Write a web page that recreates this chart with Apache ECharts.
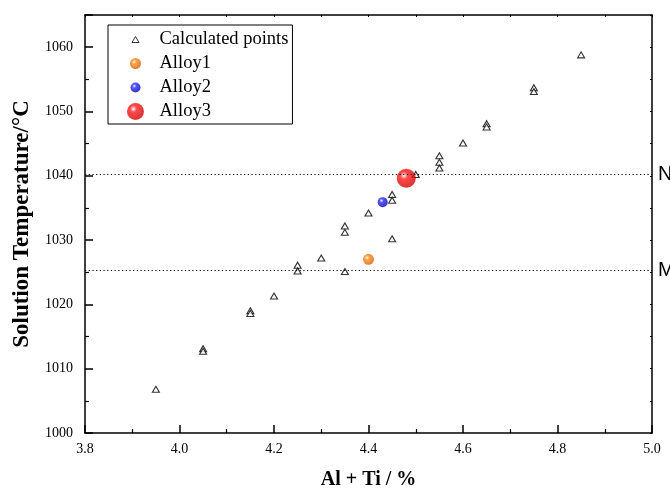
<!DOCTYPE html>
<html lang="en">
<head>
    <meta charset="UTF-8">
    <title>Solution Temperature</title>
    <style>
        body,html{
            margin: 0;
            height: 100%;
            width: 100%;
            background: #fff;
        }
    </style>
</head>
<body>

<div id="main" style="height: 489px; width: 670px;"></div>
<script src="https://cdn.jsdelivr.net/npm/echarts@6/dist/echarts.min.js"></script>
<script>
    // values
    var calcX = [3.95, 4.05, 4.05, 4.15, 4.15, 4.20, 4.25, 4.25, 4.30, 4.35, 4.35, 4.35, 4.40,
        4.45, 4.45, 4.45, 4.50, 4.55, 4.55, 4.55, 4.60, 4.65, 4.65, 4.75, 4.75, 4.85];
    var calcY = [1006.8, 1013.1, 1012.7, 1019.0, 1018.6, 1021.3, 1026.1, 1025.2, 1027.2, 1032.2, 1031.2, 1025.1, 1034.2,
        1037.1, 1036.2, 1030.2, 1040.2, 1043.1, 1042.1, 1041.2, 1045.1, 1048.1, 1047.6, 1053.7, 1053.1, 1058.8];
    var alloyNames = ['Alloy1', 'Alloy2', 'Alloy3'];
    var alloyX = [4.40, 4.43, 4.48];
    var alloyY = [1027.0, 1035.9, 1039.6];
    var refNames = ['N', 'M'];
    var refY = [1040.2, 1025.3];

    var serif = 'Liberation Serif';
    var alloyLook = [
        {size: 11, c1: '#ff8c1e', c2: '#d65c00'},
        {size: 10, c1: '#2b2bff', c2: '#0000b4'},
        {size: 19, c1: '#ff1c1c', c2: '#cc0000'}
    ];

    function ball(c1, c2, x, y, r) {
        return {
            type: 'radial', x: x, y: y, r: r,
            colorStops: [
                {offset: 0, color: '#ffffff'},
                {offset: 0.28, color: c1},
                {offset: 1, color: c2}
            ]
        };
    }

    // legend icons live in a 28x18 box, symbol centred at (9, 9)
    function legendCircle(d) {
        var r = d / 2;
        var a = (9 - r), b = (9 + r);
        return 'path://M0 0M28 18M' + a + ' 9A' + r + ' ' + r + ' 0 1 1 ' + b + ' 9A' + r + ' ' + r + ' 0 1 1 ' + a + ' 9Z';
    }
    function legendBall(d, c1, c2) {
        var hx = 9 - d / 2 + 0.38 * d, hy = 9 - d / 2 + 0.35 * d;
        return ball(c1, c2, hx / 28, hy / 18, 0.7 * d / 18);
    }

    var legendIconSize = [11, 10, 17];

    var calcData = calcX.map(function (x, i) { return [x, calcY[i]]; });

    var axisLine = {show: true, onZero: false, lineStyle: {color: '#000', width: 1.5}};
    var axisTick = {show: true, inside: true, length: 8, lineStyle: {color: '#000', width: 1.5}};
    var minorTick = {show: true, splitNumber: 2, length: 4, lineStyle: {color: '#000', width: 1.2}};
    // the mirrored top/right frame only has tiny ticks
    var mirrorTick = {show: true, inside: true, length: 2, lineStyle: {color: '#000', width: 1}};
    var mirrorMinor = {show: true, splitNumber: 2, length: 2, lineStyle: {color: '#000', width: 1}};

    var series = [{
        name: 'Calculated points',
        type: 'scatter',
        symbol: 'triangle',
        symbolSize: [7, 6],
        itemStyle: {color: '#fff', borderColor: '#000', borderWidth: 1.1},
        data: calcData,
        markLine: {
            silent: true,
            symbol: ['none', 'none'],
            animation: false,
            lineStyle: {color: '#000', width: 1.2, type: [1.2, 2.5]},
            label: {
                position: 'end', distance: 6, formatter: '{b}',
                fontFamily: 'Liberation Sans', fontSize: 20, color: '#000'
            },
            emphasis: {disabled: true},
            data: refNames.map(function (n, i) { return {name: n, yAxis: refY[i]}; })
        }
    }];
    alloyNames.forEach(function (n, i) {
        var look = alloyLook[i];
        series.push({
            name: n,
            type: 'scatter',
            symbol: 'circle',
            symbolSize: look.size,
            itemStyle: {color: ball(look.c1, look.c2, 0.38, 0.35, 0.7)},
            data: [[alloyX[i], alloyY[i]]]
        });
    });

    var legendData = [{
        name: 'Calculated points',
        icon: 'path://M0 0M28 18M9 6L12.5 12L5.5 12Z',
        itemStyle: {color: '#fff', borderColor: '#000', borderWidth: 1}
    }];
    alloyNames.forEach(function (n, i) {
        legendData.push({
            name: n,
            icon: legendCircle(legendIconSize[i]),
            itemStyle: {color: legendBall(legendIconSize[i], alloyLook[i].c1, alloyLook[i].c2), borderWidth: 0}
        });
    });

    var myChart = echarts.init(document.getElementById('main'));
    var option = {
        animation: false,
        backgroundColor: '#fff',
        grid: {left: 85, right: 18, top: 15, bottom: 56, outerBoundsMode: 'none', containLabel: false},
        legend: {
            orient: 'vertical',
            left: 108,
            top: 25,
            itemWidth: 28,
            itemHeight: 18,
            itemGap: 5,
            padding: [5, 4, 3, 18],
            borderColor: '#000',
            borderWidth: 1,
            selectedMode: false,
            textStyle: {fontFamily: serif, fontSize: 18.5, color: '#000'},
            data: legendData
        },
        xAxis: [{
            type: 'value',
            position: 'bottom',
            min: 3.8, max: 5.0, interval: 0.2,
            axisLine: axisLine, axisTick: axisTick, minorTick: minorTick,
            splitLine: {show: false},
            axisLabel: {
                margin: 9, color: '#000', fontFamily: serif, fontSize: 14,
                formatter: function (v) { return v.toFixed(1); }
            },
            name: 'Al + Ti / %',
            nameLocation: 'middle',
            nameGap: 37,
            nameTextStyle: {fontFamily: serif, fontWeight: 'bold', fontSize: 20, color: '#000'}
        }, {
            type: 'value',
            position: 'top',
            min: 3.8, max: 5.0, interval: 0.2,
            axisLine: axisLine, axisTick: mirrorTick, minorTick: mirrorMinor,
            splitLine: {show: false},
            axisLabel: {show: false}
        }],
        yAxis: [{
            type: 'value',
            position: 'left',
            min: 1000, max: 1065, interval: 10,
            axisLine: axisLine, axisTick: axisTick, minorTick: minorTick,
            splitLine: {show: false},
            axisLabel: {
                margin: 12, color: '#000', fontFamily: serif, fontSize: 14,
                formatter: function (v) { return v % 10 === 0 ? String(v) : ''; }
            },
            name: 'Solution Temperature/°C',
            nameLocation: 'middle',
            nameGap: 51,
            nameTextStyle: {fontFamily: serif, fontWeight: 'bold', fontSize: 23, color: '#000'}
        }, {
            type: 'value',
            position: 'right',
            min: 1000, max: 1065, interval: 10,
            axisLine: axisLine, axisTick: mirrorTick, minorTick: mirrorMinor,
            splitLine: {show: false},
            axisLabel: {show: false}
        }],
        series: series
    };
    myChart.setOption(option);
</script>
</body>
</html>
